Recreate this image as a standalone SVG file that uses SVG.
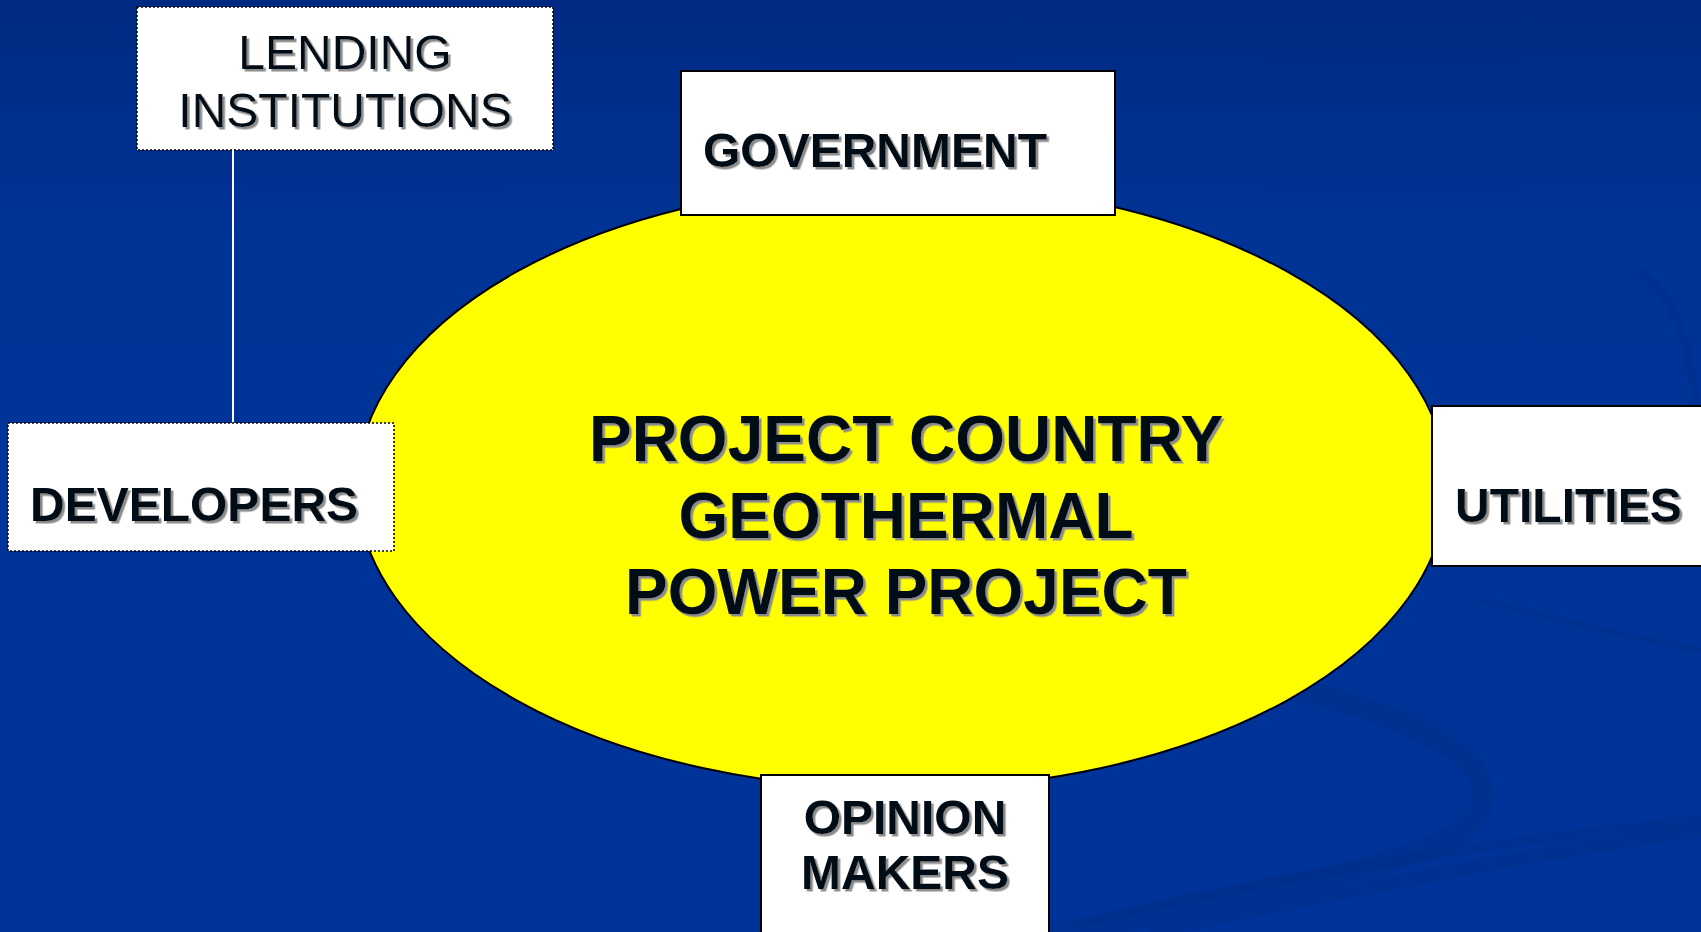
<svg xmlns="http://www.w3.org/2000/svg" width="1701" height="932" viewBox="0 0 1701 932">
  <defs>
    <linearGradient id="bg" x1="0" y1="0" x2="0" y2="1">
      <stop offset="0" stop-color="#002a82"/>
      <stop offset="0.25" stop-color="#003396"/>
      <stop offset="1" stop-color="#003399"/>
    </linearGradient>
    <filter id="shadow" x="-5%" y="-10%" width="110%" height="130%">
      <feDropShadow dx="2.5" dy="2.5" stdDeviation="0.6" flood-color="#8c8c8c" flood-opacity="1"/>
    </filter>
  </defs>
  <style>
    .box { fill: #ffffff; stroke: #000000; stroke-width: 2; }
    .dotted { fill: #ffffff; stroke: #000000; stroke-width: 1.5; stroke-dasharray: 2 2; }
    .lbl { font-family: "Liberation Sans", Arial, sans-serif; font-size: 48px; fill: #000814; filter: url(#shadow); }
    .bold { font-weight: bold; }
    .center { font-family: "Liberation Sans", Arial, sans-serif; font-size: 64px; font-weight: bold; fill: #000814; text-anchor: middle; filter: url(#shadow); }
    .swoosh { fill: none; stroke: #002d8a; stroke-opacity: 0.55; }
  </style>

  <rect x="0" y="0" width="1701" height="932" fill="url(#bg)"/>

  <g id="background-swooshes">
    <path class="swoosh" stroke-width="22" d="M1300,690 C1420,720 1500,760 1480,810 C1460,860 1300,880 1080,932"/>
    <path class="swoosh" stroke-width="10" d="M1040,932 C1250,880 1500,840 1701,820"/>
    <path class="swoosh" stroke-width="14" d="M1150,932 C1350,890 1550,850 1701,830"/>
    <path class="swoosh" stroke-width="8" d="M1640,270 C1700,320 1690,400 1701,430"/>
    <path class="swoosh" stroke-width="6" d="M1480,600 C1560,620 1640,640 1701,650"/>
  </g>

  <g id="connectors">
    <line x1="233" y1="150" x2="233" y2="423" stroke="#ffffff" stroke-width="2"/>
  </g>

  <g id="project">
    <ellipse cx="902" cy="486" rx="545" ry="303" fill="#ffff00" stroke="#000000" stroke-width="2"/>
    <text class="center" x="906" y="461">PROJECT COUNTRY</text>
    <text class="center" x="906" y="538">GEOTHERMAL</text>
    <text class="center" x="906" y="614">POWER PROJECT</text>
  </g>

  <g id="lending">
    <rect class="dotted" x="137" y="7" width="416" height="143"/>
    <text class="lbl" x="345" y="69" text-anchor="middle">LENDING</text>
    <text class="lbl" x="345" y="127" text-anchor="middle">INSTITUTIONS</text>
  </g>

  <g id="government">
    <rect class="box" x="681" y="71" width="434" height="144"/>
    <text class="lbl bold" x="703" y="167">GOVERNMENT</text>
  </g>

  <g id="developers">
    <rect class="dotted" x="8" y="423" width="386" height="128"/>
    <text class="lbl bold" x="30" y="521">DEVELOPERS</text>
  </g>

  <g id="utilities">
    <rect class="box" x="1432" y="406" width="280" height="160"/>
    <text class="lbl bold" x="1455" y="522">UTILITIES</text>
  </g>

  <g id="opinion-makers">
    <rect class="box" x="761" y="775" width="288" height="170"/>
    <text class="lbl bold" x="905" y="834" text-anchor="middle">OPINION</text>
    <text class="lbl bold" x="905" y="889" text-anchor="middle">MAKERS</text>
  </g>
</svg>
